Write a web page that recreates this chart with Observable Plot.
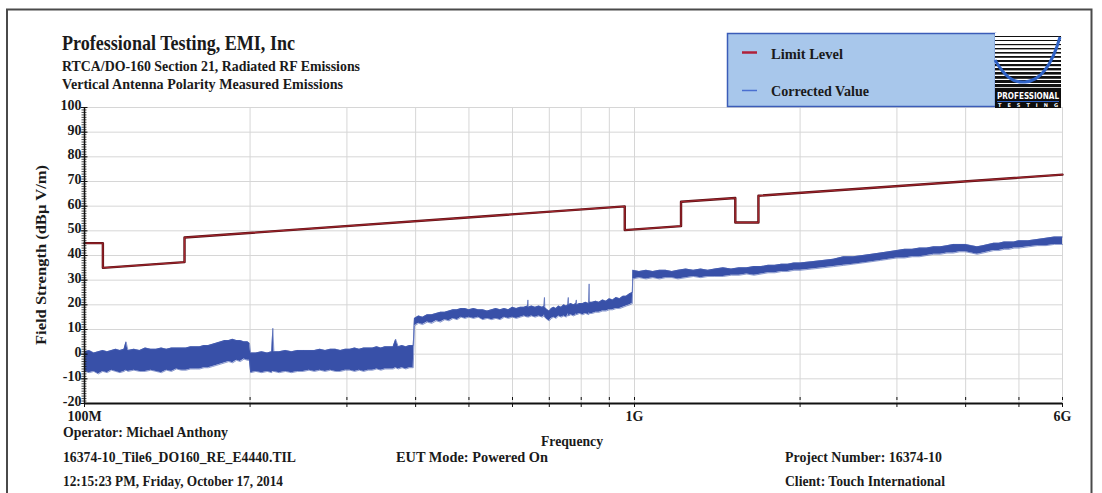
<!DOCTYPE html>
<html><head><meta charset="utf-8">
<script src="https://cdn.jsdelivr.net/npm/d3@7"></script>
<script src="https://cdn.jsdelivr.net/npm/@observablehq/plot@0.6"></script>
<style>
body{margin:0;background:#fff;}
#wrap{position:relative;width:1102px;height:493px;overflow:hidden;background:#fff;}
#wrap svg{position:absolute;left:0;top:0;}
#overlay{pointer-events:none;}
#overlay text{font-family:"Liberation Serif","Times New Roman",serif;font-weight:bold;fill:#1a1a1a;}
</style></head><body>
<div id="wrap"><div id="chart"></div>
<svg id="overlay" width="1102" height="493" viewBox="0 0 1102 493">
  <path d="M7,493 V9.5 H1091.5 V493" fill="none" stroke="#4a4a4a" stroke-width="2"/>
  <text x="62" y="50" font-size="21" textLength="233" lengthAdjust="spacingAndGlyphs">Professional Testing, EMI, Inc</text>
  <text x="62" y="71" font-size="15" textLength="298" lengthAdjust="spacingAndGlyphs">RTCA/DO-160 Section 21, Radiated RF Emissions</text>
  <text x="62" y="89" font-size="15" textLength="281" lengthAdjust="spacingAndGlyphs">Vertical Antenna Polarity Measured Emissions</text>
  <rect x="727.5" y="33.5" width="268" height="73" fill="#a8c7eb" stroke="#3b5cb8" stroke-width="1.5"/>
  <line x1="742" x2="757" y1="52.5" y2="52.5" stroke="#b0203a" stroke-width="2.5"/>
  <line x1="742" x2="757" y1="90.5" y2="90.5" stroke="#4a6fd0" stroke-width="1.5"/>
  <text x="771" y="59" font-size="15" textLength="72" lengthAdjust="spacingAndGlyphs">Limit Level</text>
  <text x="771" y="96" font-size="15" textLength="98" lengthAdjust="spacingAndGlyphs">Corrected Value</text>
  <g id="logo" transform="translate(995,33)"></g>
  <text transform="translate(46,255) rotate(-90)" text-anchor="middle" font-size="15" textLength="180" lengthAdjust="spacingAndGlyphs">Field Strength (dBµ V/m)</text>
  <text x="63" y="437" font-size="15" textLength="165" lengthAdjust="spacingAndGlyphs">Operator: Michael Anthony</text>
  <text x="572" y="446" text-anchor="middle" font-size="15" textLength="62" lengthAdjust="spacingAndGlyphs">Frequency</text>
  <text x="63" y="462" font-size="15" textLength="233" lengthAdjust="spacingAndGlyphs">16374-10_Tile6_DO160_RE_E4440.TIL</text>
  <text x="396" y="462" font-size="15" textLength="152" lengthAdjust="spacingAndGlyphs">EUT Mode: Powered On</text>
  <text x="785" y="462" font-size="15" textLength="157" lengthAdjust="spacingAndGlyphs">Project Number: 16374-10</text>
  <text x="63" y="486" font-size="15" textLength="220" lengthAdjust="spacingAndGlyphs">12:15:23 PM, Friday, October 17, 2014</text>
  <text x="785" y="486" font-size="15" textLength="160" lengthAdjust="spacingAndGlyphs">Client: Touch International</text>
</svg>
</div>
<script>
// ---- Limit line (MHz, dBuV/m) ----
const limitFreq = [100, 108, 108, 152, 152, 960, 960, 1215, 1215, 1525, 1525, 1680, 1680, 6000];
const limitDb   = [45, 45, 35, 37.3, 47.3, 59.9, 50.3, 51.9, 61.8, 63.3, 53.4, 53.4, 64.2, 72.8];

// ---- Corrected value: envelope of the measured trace (MHz, low dB, high dB) ----
const measFreq = [
 100,102,104,106,108,110,112,114,116,118,119,120,123,126,129,132,135,138,141,144,147,150,153,156,159,162,165,168,171,174,177,180,183,186,189,192,195,198,199.5,
 200.5,205,210,215,219,220,221,226,232,238,244,250,256,262,268,274,280,286,292,298,304,310,316,322,328,334,340,346,352,358,364,368,372,378,384,390,396,
 398,405,412,420,428,436,444,452,460,468,476,484,492,500,510,520,530,540,550,560,570,580,590,600,610,620,630,639,640,641,650,660,670,680,685,686,687,694,700,706,713,720,728,736,744,752,757,758,759,766,775,783,784,785,795,805,815,826,827,828,838,850,862,875,888,900,913,926,940,953,966,980,991,
 993,1020,1050,1080,1110,1140,1170,1200,1240,1280,1320,1360,1400,1450,1500,1550,1600,1650,1700,1750,1800,1850,1900,1950,2000,2100,2200,2300,2400,2500,2600,2700,2800,2900,3000,3100,3200,3300,3400,3500,3600,3700,3800,3900,4000,4100,4200,4300,4400,4500,4600,4700,4800,4900,5000,5200,5400,5600,5800,6000
];
const measLow = [
 -7,-7.5,-7,-8,-7,-7.5,-6.5,-7,-7.5,-7,-6.5,-7,-6.5,-7,-7,-6.5,-7,-7.5,-6.5,-7,-6,-6.5,-6.5,-6,-6,-6,-5.5,-5.5,-5,-4.5,-4,-3.5,-3,-3.5,-2.5,-3,-2,-2.5,-2.5,
 -7.5,-7,-7.5,-7,-7.5,-7,-7,-7.5,-7,-7.5,-7,-7,-6.5,-7,-6.5,-7,-6.5,-7,-7,-6.5,-6.5,-7,-6.5,-7,-6.5,-6.5,-6,-6.5,-6,-6,-6,-5.5,-6,-5.5,-6,-5.5,-5.5,
 11.5,12.5,12,13,12.5,13.5,13,14,13.5,14.5,14,15,14.5,15,14.5,15,14,14.5,14,14.5,14,15,14.5,15,14.5,15,15.5,15,15.5,15,15.5,15,15.5,15,15.5,16,15,14,13.5,14.5,15,14.5,15.5,15,15.5,15,16,16.5,15.5,16,15.5,16,16.5,16,16.5,16,16.5,16,17,16.5,16.5,17,17,17.5,17.5,18,18,18.5,18.5,19,19.5,20,20.5,
 30.5,31,30.5,31,30.5,31,31,30.5,31,31.5,31,31.5,31.5,31.5,32,32,32.5,32,32.5,33,33,33.5,33.5,34,34,34.5,35,35.5,36,36.5,37,37.5,38,38.5,39,39,39.5,39.5,40,40.5,40.5,41,41,41.5,41.5,41,40.5,41,41.5,42,42,42.5,42.5,43,43,43.5,44,44,44.5,44.5
];
const measHigh = [
 1,1.5,0.5,1,1.5,1,1.5,2,1.5,2,5,1.5,2,1.5,2.5,2,2,2.5,2,2.5,2.5,2.5,2.5,3,3,3,3.5,3.5,4,4.5,5,5.5,5.5,6,5.5,5.5,5,5,4.5,
 0.5,0.5,1,0.5,1,10.5,1,1,1.5,1,1.5,1.5,1.5,1.5,2,1.5,2,2,1.5,2,2,2.5,2,2.5,2.5,2.5,3,2.5,3,3,3,6,3,3.5,3,3.5,3.5,
 14.5,15.5,15,16,16,16.5,17,17,17.5,18,18,18.5,18.5,18,18.5,18,18,17.5,18,18.5,18,18.5,18,19,18.5,19,19,19.5,22,19,19.5,19,19.5,19,19.5,23,19,18,17.5,18.5,19,18.5,19.5,19,20,19.5,20,23,20,20.5,20,20.5,22,20,20.5,20.5,21,20.5,28.5,21,21,21.5,21,22,21.5,22.5,22,23,22.5,23.5,23.5,24.5,25,
 34,33.5,34,33.5,34,34,33.5,34,34.5,34,34.5,34,34.5,35,34.5,35,35,35.5,35.5,36,36,36.5,36.5,37,37,37.5,38,38.5,39.5,39.5,40,40.5,41,41.5,42,42.5,42.5,43,43,43.5,43.5,44,44.5,44.5,44.5,44,43.5,44,44.5,45,45,45.5,45.5,45.5,46,46,46.5,47,47.5,47.5
];

// ---- Axes ----
const yTicks = [-20,-10,0,10,20,30,40,50,60,70,80,90,100];
const yMinor = d3.range(-20, 101, 1);
const xGrid = [100,200,300,400,500,600,700,800,900,1000,2000,3000,4000,5000,6000];
const xLabels = {100: "100M", 1000: "1G", 6000: "6G"};

const limit = limitFreq.map((f, i) => ({f, v: limitDb[i]}));
const meas = measFreq.map((f, i) => ({f, lo: measLow[i], hi: measHigh[i]}));

const blue = "#3850a8";
const chart = Plot.plot({
  width: 1102, height: 493,
  marginLeft: 84, marginRight: 40, marginTop: 107, marginBottom: 90,
  x: {type: "log", domain: [100, 6000], label: null},
  y: {domain: [-20, 100], label: null},
  style: {fontFamily: "'Liberation Serif', 'Times New Roman', serif", fontWeight: "bold", fontSize: "14px", color: "#1a1a1a", background: "transparent"},
  marks: [
    Plot.gridX(xGrid, {stroke: "#d6d6d6", strokeOpacity: 1, strokeWidth: 1}),
    Plot.gridY(yTicks, {stroke: "#d6d6d6", strokeOpacity: 1, strokeWidth: 1}),
    Plot.areaY(meas, {x: "f", y1: "lo", y2: "hi", fill: blue, curve: "linear"}),
    Plot.line(meas, {x: "f", y: "hi", stroke: "#4a62b4", strokeWidth: 0.8, strokeOpacity: 0.8}),
    Plot.line(meas, {x: "f", y: "lo", stroke: "#4a62b4", strokeWidth: 0.8, strokeOpacity: 0.8}),
    Plot.line(limit, {x: "f", y: "v", stroke: "#5a1014", strokeWidth: 2.4}),
    Plot.line(limit, {x: "f", y: "v", stroke: "#a8262e", strokeWidth: 1}),
    Plot.axisY(yMinor, {tickSize: 5, dx: 2.5, tickFormat: () => "", stroke: "#222", strokeWidth: 0.8}),
    Plot.axisY(yTicks, {tickSize: 7, dx: 3.5, tickFormat: () => "", stroke: "#111"}),
    Plot.axisY(yTicks, {tickSize: 0, tickPadding: 3, dy: -2, fontSize: 14, tickFormat: d => String(d), label: null, fill: "#1a1a1a"}),
    Plot.ruleX([100], {stroke: "#111", strokeWidth: 1.5}),
    Plot.ruleY([-20], {stroke: "#111", strokeWidth: 2}),
    Plot.axisX(xGrid, {tickSize: 4, tickPadding: 4, fontSize: 14, tickFormat: d => xLabels[d] || "", label: null, stroke: "#111"}),
    Plot.axisX(xGrid, {tickSize: 3, dy: -6, tickFormat: () => "", label: null, stroke: "#111"})
  ]
});
document.getElementById("chart").appendChild(chart);

// ---- Logo (decorative) ----
const logo = d3.select("#logo");
logo.append("rect").attr("width", 66).attr("height", 75).attr("fill", "#fff");
const stripes = [[3,1],[7,1],[11,1.2],[15,1.4],[19,1.6],[23,1.8],[27,2],[31,2.2],[35,2.4],[39,2.6],[43,2.8],[47,3],[51,3.2]];
stripes.forEach(([y, h]) => logo.append("rect").attr("x", 0).attr("y", y).attr("width", 66).attr("height", h).attr("fill", "#111"));
logo.append("path").attr("d", "M0,27 C10,44 18,50 30,49 C46,48 57,32 65,4").attr("fill", "none").attr("stroke", "#2f62c6").attr("stroke-width", 3);
logo.append("rect").attr("x", 0).attr("y", 55).attr("width", 66).attr("height", 20).attr("fill", "#0d0d0d");
logo.append("text").attr("x", 33).attr("y", 66).attr("text-anchor", "middle").attr("font-size", 9).attr("textLength", 62).attr("lengthAdjust", "spacingAndGlyphs")
  .style("font-family", "'DejaVu Sans Condensed', 'DejaVu Sans', sans-serif").style("fill", "#fff").style("font-weight", "bold").text("PROFESSIONAL");
logo.append("rect").attr("x", 2).attr("y", 68).attr("width", 62).attr("height", 1).attr("fill", "#2f62c6");
logo.append("text").attr("x", 33).attr("y", 74).attr("text-anchor", "middle").attr("font-size", 5).attr("textLength", 60).attr("lengthAdjust", "spacing")
  .style("font-family", "'DejaVu Sans', sans-serif").style("fill", "#fff").style("font-weight", "bold").text("TESTING");
</script>
</body></html>
